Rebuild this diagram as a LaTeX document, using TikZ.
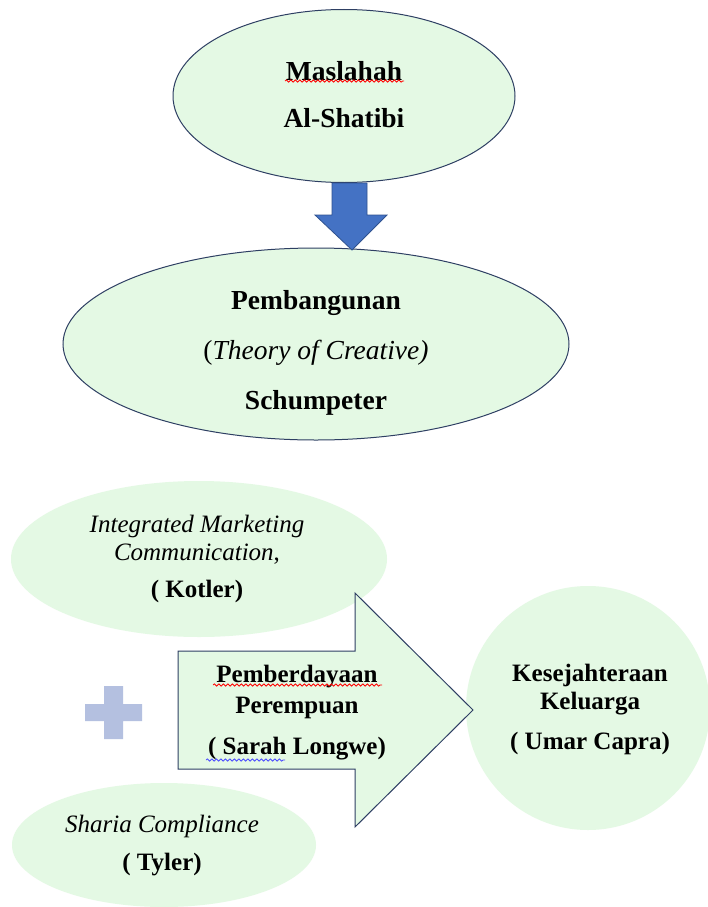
\documentclass[tikz,border=0pt]{standalone}
\usepackage{fontspec}
\setmainfont{LiberationSerif}[Extension=.ttf,UprightFont=*-Regular,BoldFont=*-Bold,ItalicFont=*-Italic,BoldItalicFont=*-BoldItalic]
\usetikzlibrary{shapes.geometric,decorations.pathmorphing}
\definecolor{lgreen}{RGB}{228,249,228}
\definecolor{navy}{RGB}{46,63,99}
\definecolor{barrow}{RGB}{68,114,196}
\definecolor{barrowd}{RGB}{47,82,143}
\definecolor{plusc}{RGB}{180,192,224}
\begin{document}
\begin{tikzpicture}[x=1pt,y=-1pt,
  oval/.style={ellipse,fill=lgreen,inner sep=0pt},
  ovalb/.style={oval,draw=navy,line width=1pt},
  bigtxt/.style={align=center,font=\bfseries\fontsize{27.5}{47}\selectfont},
  smtxt/.style={align=center,font=\fontsize{25}{28}\selectfont},
  squig/.style={decorate,decoration={snake,segment length=4.5pt,amplitude=1.1pt},line width=0.8pt}
]
\clip (0,0) rectangle (708,907);
\fill[white] (0,0) rectangle (708,907);

% top ellipse
\node[ovalb,minimum width=342pt,minimum height=173pt] (e1) at (344,96) {};
\node[bigtxt] (t1) at (344,95) {Maslahah\\Al-Shatibi};
\draw[squig,red] (285,81) -- (404,81);

% second ellipse
\node[ovalb,minimum width=506pt,minimum height=192pt] (e2) at (316,344) {};
\node[bigtxt,font=\bfseries\fontsize{27.5}{50}\selectfont] (t2) at (316,353) {Pembangunan\\\mdseries(\textit{Theory of Creative)}\\Schumpeter};

% blue block arrow
\draw[fill=barrow,draw=barrowd,line width=0.8pt,line join=miter]
  (332,183) -- (367,183) -- (367,215) -- (387,215) -- (352,250) -- (315,215) -- (332,215) -- cycle;

% IMC ellipse
\node[oval,minimum width=376pt,minimum height=156pt] (e3) at (199,559) {};
\node[smtxt] (t3) at (197,559) {\textit{Integrated Marketing}\\\textit{Communication},\\[9pt]\textbf{( Kotler)}};

% Sharia ellipse
\node[oval,minimum width=304pt,minimum height=124pt] (e4) at (164,845) {};
\node[smtxt,font=\fontsize{25}{38}\selectfont] (t4) at (162,846) {\textit{Sharia Compliance}\\\textbf{( Tyler)}};

% circle
\node[circle,fill=lgreen,minimum size=244pt,inner sep=0pt] (c1) at (588,708) {};
\node[smtxt,font=\bfseries\fontsize{25}{28}\selectfont] (t5) at (590,709) {Kesejahteraan\\Keluarga\\[12pt]( Umar Capra)};

% plus sign
\fill[plusc] (104,686) -- (123,686) -- (123,704) -- (142,704) -- (142,721) -- (123,721) -- (123,739) -- (104,739) -- (104,721) -- (85,721) -- (85,704) -- (104,704) -- cycle;

% big arrow
\draw[fill=lgreen,draw=navy,line width=1pt,line join=miter]
  (178,651) -- (355,651) -- (355,593) -- (473,710) -- (355,827) -- (355,769) -- (178,769) -- cycle;
\node[smtxt,font=\bfseries\fontsize{25}{31}\selectfont] (t6) at (297,713) {Pemberdayaan\\Perempuan\\[10pt]( Sarah Longwe)};
\draw[squig,red] (213,685) -- (382,685);
\draw[squig,blue!70!white] (206,760) -- (285,760);
\end{tikzpicture}
\end{document}
